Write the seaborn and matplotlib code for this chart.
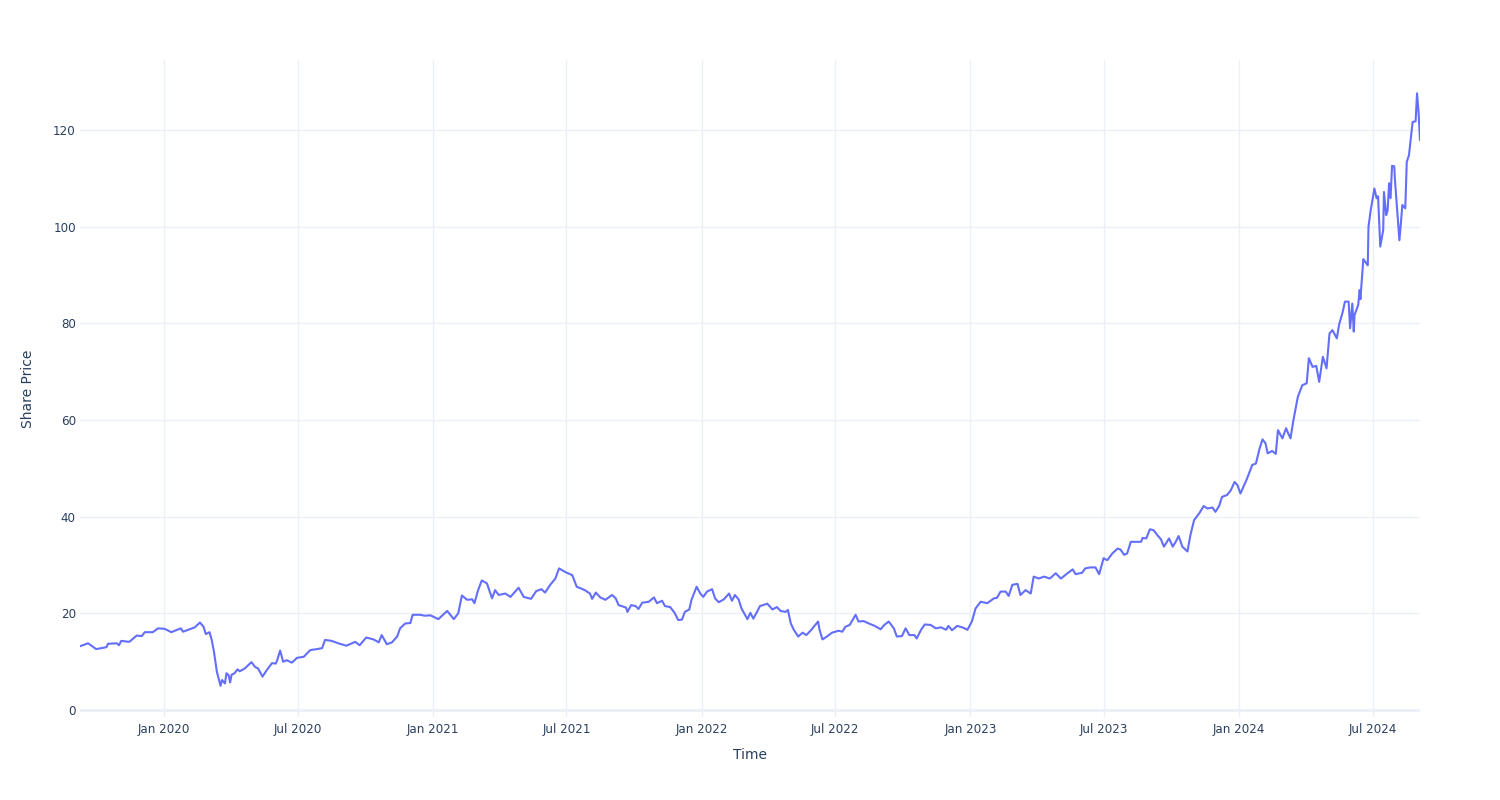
import matplotlib
matplotlib.use("Agg")
import matplotlib.pyplot as plt
import matplotlib.dates as mdates
import seaborn as sns
import pandas as pd

dates = [
    "2019-09-09", "2019-09-20", "2019-10-01", "2019-10-15", "2019-10-17", "2019-10-29",
    "2019-11-01", "2019-11-04", "2019-11-15", "2019-11-25", "2019-12-02", "2019-12-06",
    "2019-12-17", "2019-12-24", "2020-01-02", "2020-01-11", "2020-01-16", "2020-01-24",
    "2020-01-27", "2020-02-05", "2020-02-12", "2020-02-19", "2020-02-24", "2020-02-27",
    "2020-03-03", "2020-03-06", "2020-03-09", "2020-03-13", "2020-03-18", "2020-03-20",
    "2020-03-24", "2020-03-26", "2020-03-29", "2020-03-31", "2020-04-02", "2020-04-06",
    "2020-04-10", "2020-04-13", "2020-04-20", "2020-04-29", "2020-05-04", "2020-05-08",
    "2020-05-14", "2020-05-20", "2020-05-27", "2020-06-01", "2020-06-03", "2020-06-07",
    "2020-06-11", "2020-06-16", "2020-06-23", "2020-06-30", "2020-07-09", "2020-07-18",
    "2020-07-27", "2020-08-03", "2020-08-07", "2020-08-16", "2020-08-25", "2020-09-05",
    "2020-09-17", "2020-09-23", "2020-10-02", "2020-10-12", "2020-10-19", "2020-10-23",
    "2020-10-30", "2020-11-06", "2020-11-13", "2020-11-17", "2020-11-24", "2020-12-01",
    "2020-12-04", "2020-12-14", "2020-12-21", "2020-12-28", "2021-01-08", "2021-01-20",
    "2021-01-29", "2021-02-04", "2021-02-09", "2021-02-16", "2021-02-23", "2021-02-26",
    "2021-03-03", "2021-03-08", "2021-03-15", "2021-03-22", "2021-03-26", "2021-03-31",
    "2021-04-09", "2021-04-16", "2021-04-27", "2021-05-04", "2021-05-14", "2021-05-21",
    "2021-05-28", "2021-06-02", "2021-06-09", "2021-06-16", "2021-06-21", "2021-06-30",
    "2021-07-09", "2021-07-15", "2021-07-20", "2021-07-26", "2021-08-02", "2021-08-05",
    "2021-08-10", "2021-08-16", "2021-08-23", "2021-09-01", "2021-09-06", "2021-09-10",
    "2021-09-20", "2021-09-22", "2021-09-27", "2021-10-03", "2021-10-07", "2021-10-12",
    "2021-10-21", "2021-10-28", "2021-11-01", "2021-11-08", "2021-11-12", "2021-11-19",
    "2021-11-25", "2021-11-30", "2021-12-05", "2021-12-09", "2021-12-15", "2021-12-18",
    "2021-12-25", "2021-12-30", "2022-01-03", "2022-01-08", "2022-01-15", "2022-01-19",
    "2022-01-24", "2022-01-31", "2022-02-07", "2022-02-11", "2022-02-15", "2022-02-20",
    "2022-02-24", "2022-03-04", "2022-03-08", "2022-03-12", "2022-03-17", "2022-03-21",
    "2022-03-31", "2022-04-07", "2022-04-13", "2022-04-18", "2022-04-25", "2022-04-28",
    "2022-05-02", "2022-05-06", "2022-05-12", "2022-05-18", "2022-05-23", "2022-05-30",
    "2022-06-02", "2022-06-08", "2022-06-10", "2022-06-14", "2022-06-20", "2022-06-27",
    "2022-07-06", "2022-07-11", "2022-07-15", "2022-07-21", "2022-07-29", "2022-08-02",
    "2022-08-09", "2022-08-16", "2022-08-24", "2022-09-01", "2022-09-06", "2022-09-12",
    "2022-09-19", "2022-09-23", "2022-09-30", "2022-10-05", "2022-10-10", "2022-10-17",
    "2022-10-20", "2022-10-26", "2022-10-31", "2022-11-08", "2022-11-15", "2022-11-22",
    "2022-11-29", "2022-12-02", "2022-12-07", "2022-12-14", "2022-12-21", "2022-12-28",
    "2023-01-03", "2023-01-08", "2023-01-15", "2023-01-24", "2023-02-02", "2023-02-06",
    "2023-02-11", "2023-02-18", "2023-02-22", "2023-02-27", "2023-03-06", "2023-03-10",
    "2023-03-17", "2023-03-24", "2023-03-28", "2023-04-04", "2023-04-11", "2023-04-19",
    "2023-04-27", "2023-05-04", "2023-05-13", "2023-05-20", "2023-05-24", "2023-06-02",
    "2023-06-06", "2023-06-13", "2023-06-20", "2023-06-25", "2023-07-01", "2023-07-06",
    "2023-07-13", "2023-07-20", "2023-07-24", "2023-07-29", "2023-08-02", "2023-08-07",
    "2023-08-14", "2023-08-21", "2023-08-23", "2023-08-28", "2023-09-02", "2023-09-07",
    "2023-09-12", "2023-09-17", "2023-09-21", "2023-09-28", "2023-10-03", "2023-10-07",
    "2023-10-11", "2023-10-16", "2023-10-23", "2023-10-27", "2023-11-01", "2023-11-08",
    "2023-11-14", "2023-11-19", "2023-11-26", "2023-11-30", "2023-12-05", "2023-12-09",
    "2023-12-16", "2023-12-21", "2023-12-26", "2023-12-30", "2024-01-03", "2024-01-08",
    "2024-01-12", "2024-01-19", "2024-01-24", "2024-01-29", "2024-02-02", "2024-02-06",
    "2024-02-09", "2024-02-15", "2024-02-20", "2024-02-23", "2024-02-29", "2024-03-05",
    "2024-03-08", "2024-03-11", "2024-03-15", "2024-03-21", "2024-03-27", "2024-04-02",
    "2024-04-05", "2024-04-10", "2024-04-15", "2024-04-19", "2024-04-24", "2024-04-29",
    "2024-05-03", "2024-05-07", "2024-05-13", "2024-05-16", "2024-05-21", "2024-05-24",
    "2024-05-29", "2024-05-31", "2024-06-03", "2024-06-05", "2024-06-06", "2024-06-11",
    "2024-06-13", "2024-06-14", "2024-06-18", "2024-06-24", "2024-06-25", "2024-06-28",
    "2024-07-03", "2024-07-06", "2024-07-08", "2024-07-11", "2024-07-15", "2024-07-16",
    "2024-07-19", "2024-07-21", "2024-07-23", "2024-07-25", "2024-07-27", "2024-07-30",
    "2024-07-31", "2024-08-04", "2024-08-06", "2024-08-08", "2024-08-10", "2024-08-14",
    "2024-08-16", "2024-08-19", "2024-08-22", "2024-08-24", "2024-08-28", "2024-08-30",
    "2024-09-01", "2024-09-03",
]

prices = [
    13.2, 13.8, 12.6, 13.0, 13.7, 13.8,
    13.4, 14.3, 14.1, 15.4, 15.3, 16.1,
    16.1, 16.9, 16.8, 16.1, 16.4, 16.9,
    16.2, 16.7, 17.1, 18.1, 17.2, 15.7,
    16.1, 14.5, 12.1, 7.9, 5.0, 6.2,
    5.5, 7.6, 7.2, 5.7, 7.3, 7.6,
    8.4, 8.0, 8.6, 9.9, 8.9, 8.6,
    6.9, 8.3, 9.7, 9.6, 10.3, 12.3,
    10.0, 10.3, 9.8, 10.8, 11.0, 12.4,
    12.6, 12.8, 14.5, 14.3, 13.8, 13.3,
    14.1, 13.4, 15.0, 14.6, 14.0, 15.5,
    13.6, 14.0, 15.2, 16.9, 17.9, 18.0,
    19.7, 19.7, 19.5, 19.6, 18.8, 20.5,
    18.8, 20.0, 23.7, 22.8, 22.9, 22.1,
    24.8, 26.8, 26.2, 23.1, 24.8, 23.8,
    24.1, 23.4, 25.3, 23.4, 23.0, 24.6,
    25.0, 24.3, 25.9, 27.2, 29.3, 28.5,
    27.9, 25.5, 25.2, 24.8, 24.1, 23.0,
    24.3, 23.3, 22.8, 23.8, 23.1, 21.7,
    21.2, 20.3, 21.7, 21.5, 20.9, 22.2,
    22.4, 23.3, 22.1, 22.6, 21.5, 21.3,
    20.1, 18.6, 18.7, 20.3, 20.8, 22.8,
    25.5, 24.1, 23.4, 24.5, 25.0, 23.1,
    22.3, 22.9, 24.1, 22.6, 23.8, 22.9,
    21.0, 18.8, 20.1, 18.9, 20.3, 21.5,
    22.0, 20.8, 21.3, 20.5, 20.3, 20.7,
    17.9, 16.6, 15.2, 16.0, 15.5, 16.6,
    17.2, 18.3, 16.6, 14.6, 15.2, 16.0,
    16.4, 16.2, 17.2, 17.6, 19.7, 18.3,
    18.4, 17.9, 17.4, 16.7, 17.6, 18.3,
    16.9, 15.2, 15.3, 16.9, 15.5, 15.5,
    14.8, 16.6, 17.7, 17.6, 16.9, 17.1,
    16.6, 17.4, 16.5, 17.4, 17.1, 16.6,
    18.3, 21.0, 22.4, 22.1, 23.1, 23.2,
    24.5, 24.5, 23.6, 25.9, 26.1, 23.8,
    24.8, 24.1, 27.6, 27.2, 27.6, 27.2,
    28.3, 27.2, 28.3, 29.1, 28.1, 28.4,
    29.3, 29.5, 29.5, 28.1, 31.4, 31.0,
    32.4, 33.4, 33.2, 32.1, 32.4, 34.8,
    34.8, 34.8, 35.6, 35.5, 37.4, 37.2,
    36.2, 35.3, 33.8, 35.5, 33.8, 34.8,
    36.0, 33.8, 32.8, 36.2, 39.3, 40.7,
    42.2, 41.7, 41.9, 41.0, 42.2, 44.1,
    44.5, 45.5, 47.2, 46.5, 44.8, 46.5,
    47.9, 50.7, 51.0, 54.1, 56.0, 55.2,
    53.1, 53.6, 53.0, 57.9, 56.2, 58.3,
    57.2, 56.2, 60.0, 64.8, 67.2, 67.6,
    72.8, 71.0, 71.2, 67.9, 73.1, 70.7,
    77.9, 78.6, 76.9, 79.7, 82.4, 84.5,
    84.5, 79.0, 84.1, 78.3, 81.7, 83.8,
    86.9, 85.0, 93.3, 92.0, 100.0, 103.4,
    107.9, 105.9, 106.3, 95.9, 99.3, 107.2,
    102.4, 103.4, 109.0, 105.9, 112.6, 112.5,
    109.6, 101.4, 97.2, 100.7, 104.5, 103.8,
    113.4, 114.8, 119.0, 121.7, 121.8, 127.6,
    123.8, 117.9,
]

y_ticks = [0, 20, 40, 60, 80, 100, 120]
x_label = "Time"
y_label = "Share Price"

df = pd.DataFrame({"Time": pd.to_datetime(dates), "Price": prices})

sns.set_theme(style="white")
plt.rcParams["font.family"] = ["DejaVu Sans"]

grid_color = "#EBF0F8"
text_color = "#2a3f5f"
line_color = "#636EFA"

fig = plt.figure(figsize=(15, 8), dpi=100)
ax = fig.add_axes([80 / 1500, 1 - 717 / 800, 1340 / 1500, 657 / 800])
ax.set_facecolor("white")

sns.lineplot(data=df, x="Time", y="Price", ax=ax, color=line_color,
             linewidth=1.5, estimator=None, zorder=3)

ax.set_xlim(df["Time"].iloc[0], df["Time"].iloc[-1])
ax.set_ylim(-1.45, 134.5)
ax.set_yticks(y_ticks)

ax.xaxis.set_major_locator(mdates.MonthLocator(bymonth=[1, 7]))
ax.xaxis.set_major_formatter(mdates.DateFormatter("%b %Y"))

ax.grid(True, color=grid_color, linewidth=1.0, zorder=0)
ax.axhline(0, color=grid_color, linewidth=2.0, zorder=1)

for s in ax.spines.values():
    s.set_visible(False)

ax.tick_params(axis="both", length=0, labelsize=8.6, labelcolor=text_color)
ax.tick_params(axis="y", pad=3)
ax.tick_params(axis="x", pad=4)

ax.set_xlabel(x_label, fontsize=10, color=text_color, labelpad=9)
ax.set_ylabel(y_label, fontsize=10, color=text_color, labelpad=13)

fig.savefig("out.png", dpi=100, facecolor="white")
